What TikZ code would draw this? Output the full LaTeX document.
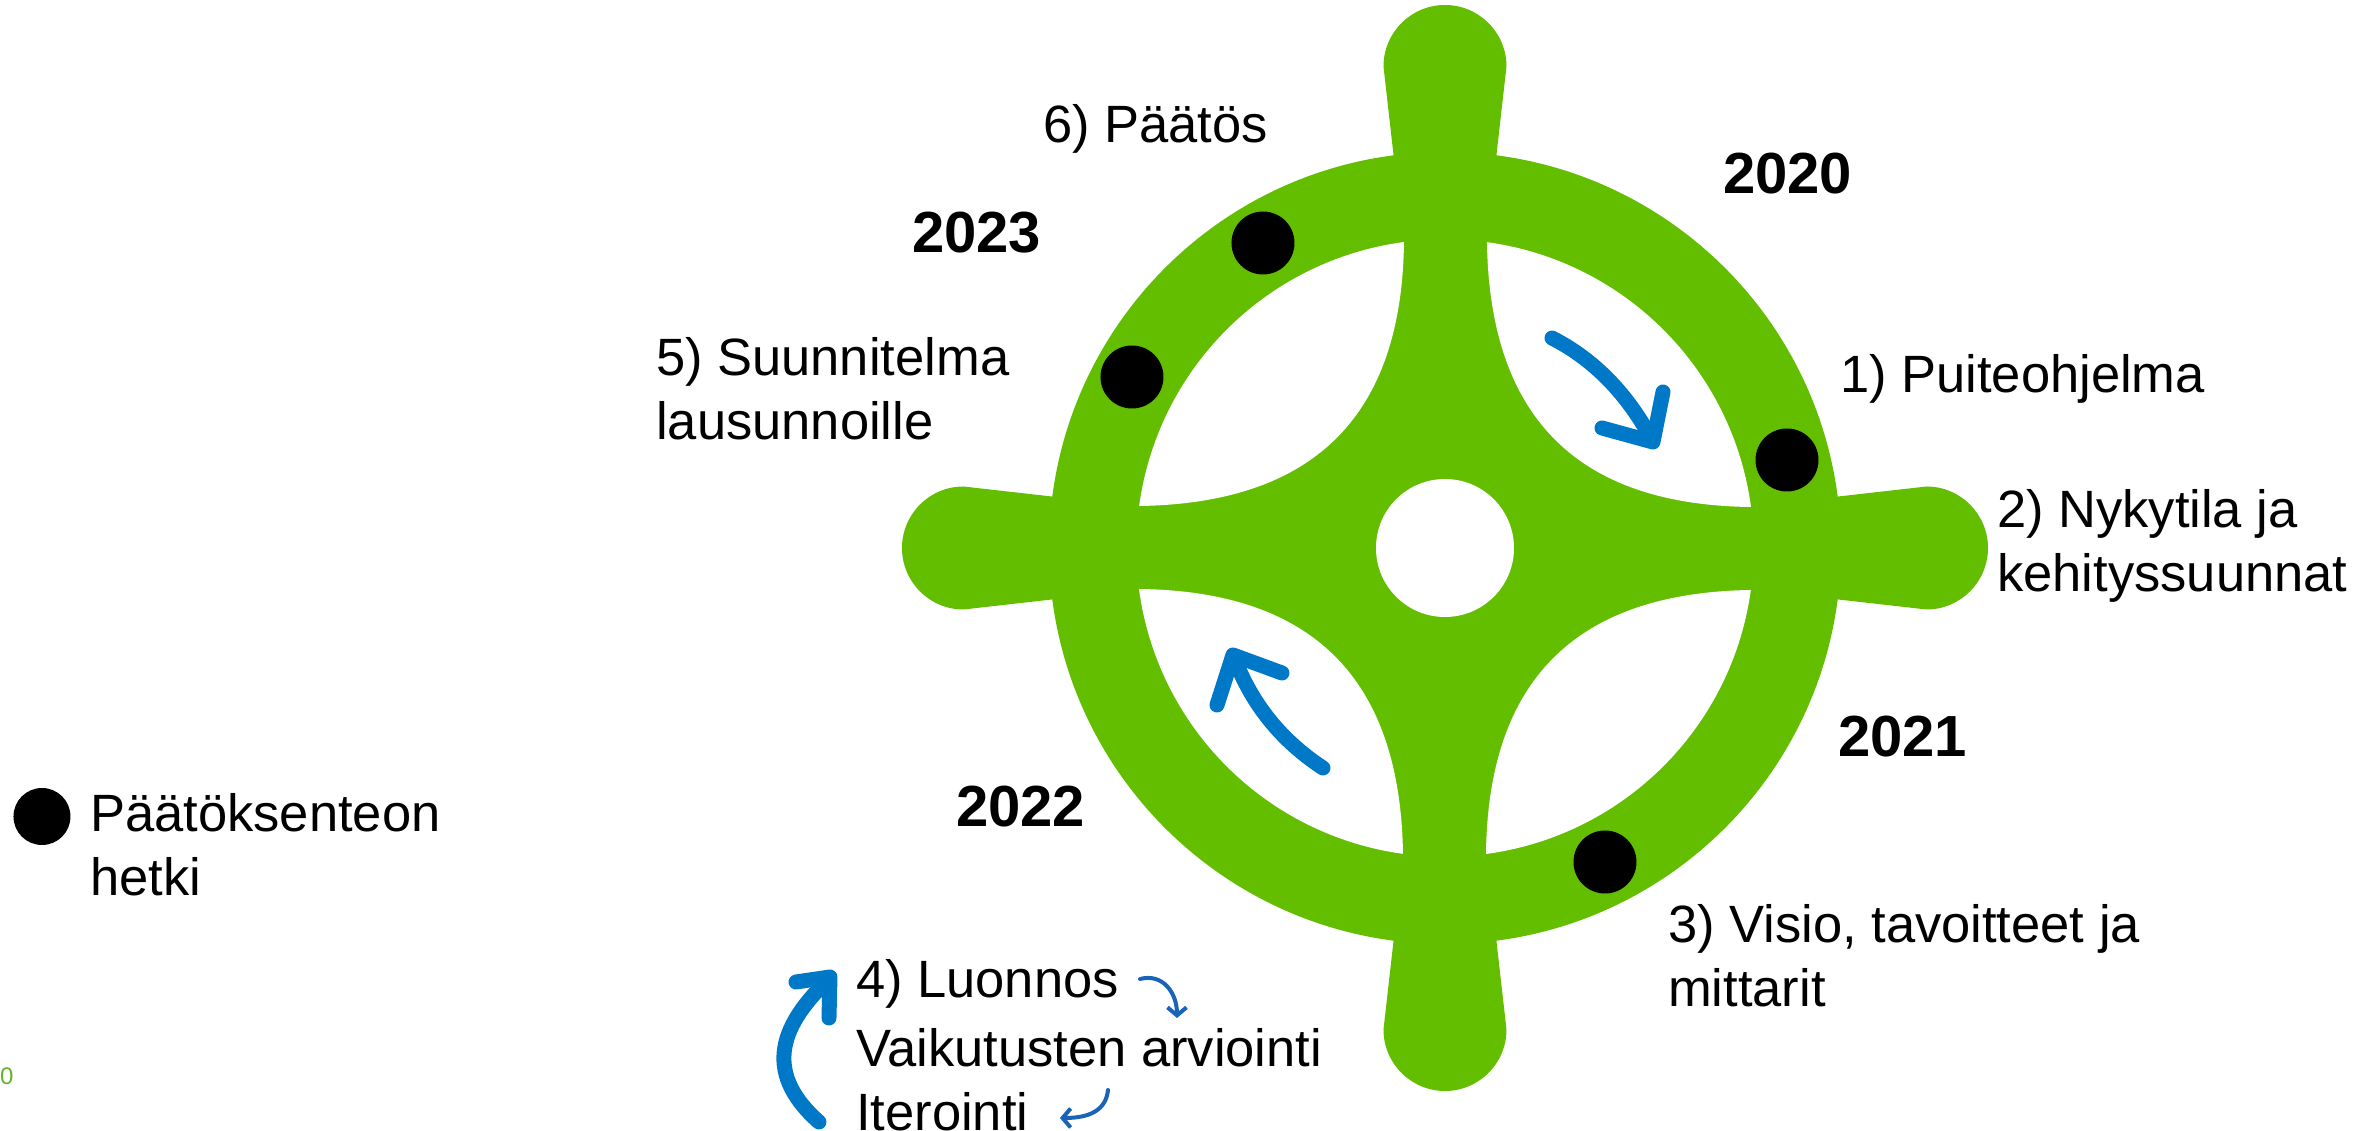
\documentclass[tikz,border=0pt]{standalone}
\usepackage{fontspec}
\setmainfont{Liberation Sans}
\usetikzlibrary{arrows.meta}
\definecolor{wheelgreen}{RGB}{99,190,0}
\definecolor{arrowblue}{RGB}{0,120,200}
\definecolor{smallblue}{RGB}{25,100,185}
\definecolor{zerogreen}{RGB}{100,180,40}
\begin{document}
\begin{tikzpicture}[x=1pt,y=1pt,
  lbl/.style={inner sep=0pt, anchor=base west, font=\fontsize{52.5}{64}\selectfont},
  yr/.style={inner sep=0pt, anchor=base west, font=\fontsize{58}{70}\selectfont\bfseries},
  dot/.style={circle, fill=black, minimum size=63pt, inner sep=0pt},
  bigarrow/.style={draw=arrowblue, line width=15pt, line cap=round, line join=round},
  smallarrow/.style={draw=smallblue, line width=4pt, line cap=round, -{Straight Barb[length=8pt,width=19pt]}}
]
\useasboundingbox (-1445,-583) rectangle (927,548);
% handles
\foreach \a in {0,90,180,270}{
  \fill[wheelgreen, rotate=\a] (-50,380) -- (-61.5,481.5) arc[start angle=180,end angle=0,radius=61.5] -- (50,380) -- cycle;
}
% rim disc
\fill[wheelgreen] (0,0) circle[radius=396];
% hub hole
\fill[white] (0,0) circle[radius=69];
% four leaf-shaped openings
\foreach \a in {0,90,180,270}{
  \fill[white, rotate=\a] (42,305) .. controls (45,128) and (135,43) .. (306,41) arc[start angle=7.63, end angle=82.16, radius=308.7] -- cycle;
}
% decision dots
\node[dot] (d1) at (-182,305) {};
\node[dot] (d2) at (-313,171) {};
\node[dot] (d3) at (342,88) {};
\node[dot] (d4) at (160,-314) {};
% blue rotation arrows
\draw[bigarrow] (107,210) .. controls (150,188) and (183,153) .. (207,108);
\draw[bigarrow] (218,156) -- (208,106) -- (157,120);
\draw[bigarrow] (-122,-220) .. controls (-160,-195) and (-192,-160) .. (-211,-109);
\draw[bigarrow] (-163,-125) -- (-212,-107) -- (-228,-157);
\draw[bigarrow] (-626,-574) .. controls (-685,-522) and (-661,-474) .. (-617,-432);
\draw[bigarrow] (-649,-434) -- (-615,-429) -- (-616,-470);
% small arrows
\draw[smallarrow] (-305,-431) .. controls (-282,-425) and (-268,-445) .. (-268,-470);
\draw[smallarrow] (-337,-542) .. controls (-339,-562) and (-355,-570) .. (-385,-570);
% labels
\node[lbl] (t6) at (-402,405) {6) Päätös};
\node[yr] (y2023) at (-533,295) {2023};
\node[lbl] (t5) at (-789,172) {\vtop{\hbox{5) Suunnitelma}\hbox{lausunnoille}}};
\node[yr] (y2020) at (278,354) {2020};
\node[lbl] (t1) at (395,155) {1) Puiteohjelma};
\node[lbl] (t2) at (552,20) {\vtop{\hbox{2) Nykytila ja}\hbox{kehityssuunnat}}};
\node[yr] (y2021) at (393,-209) {2021};
\node[lbl] (t3) at (223,-395) {\vtop{\hbox{3) Visio, tavoitteet ja}\hbox{mittarit}}};
\node[yr] (y2022) at (-489,-279) {2022};
\node[lbl] (t4) at (-589,-449) {\vtop{\hbox{4) Luonnos}\vskip6pt\hbox{Vaikutusten arviointi}\hbox{Iterointi}}};
% legend
\node[circle, fill=black, minimum size=57pt, inner sep=0pt] (legdot) at (-1403,-268.5) {};
\node[lbl] (leg) at (-1355,-284) {\vtop{\hbox{Päätöksenteon}\hbox{hetki}}};
\node[inner sep=0pt, anchor=base west, font=\fontsize{24}{28}\selectfont, text=zerogreen] (zero) at (-1445,-536) {0};
\end{tikzpicture}
\end{document}
